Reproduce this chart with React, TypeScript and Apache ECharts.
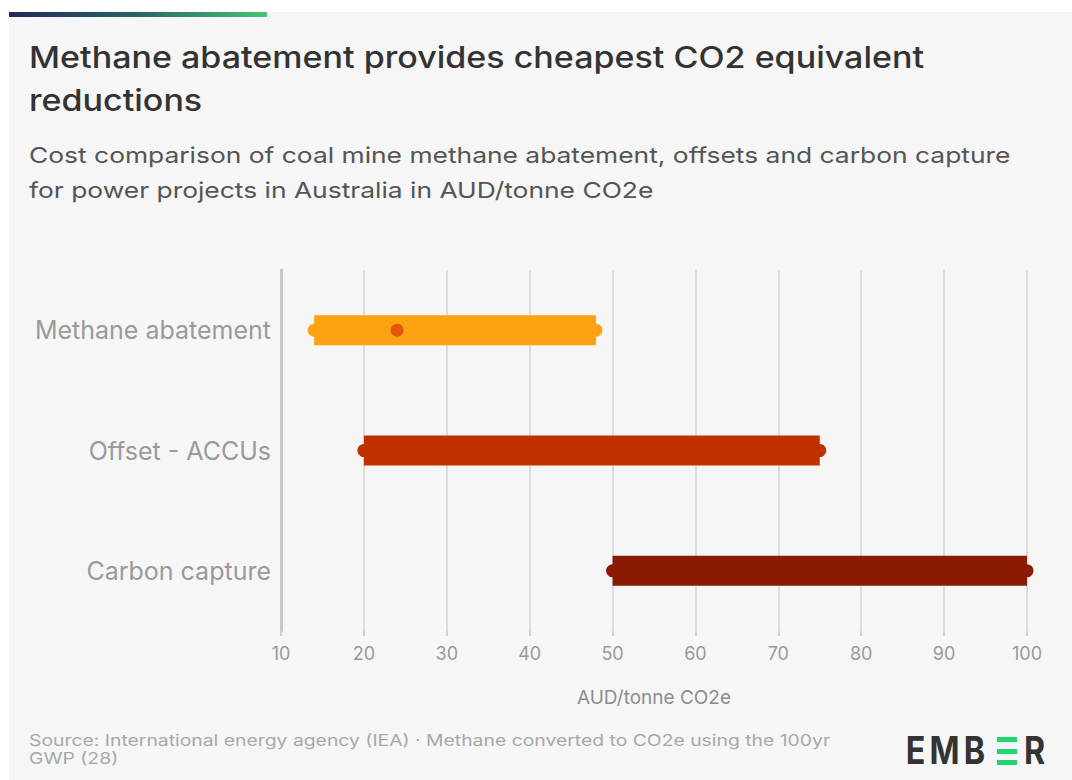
import React, { useEffect, useRef } from "react";
import * as echarts from "echarts";

// Cost ranges in AUD per tonne CO2e
const categories = ["Methane abatement", "Offset - ACCUs", "Carbon capture"];
const rangeLow = [14, 20, 50];
const rangeHigh = [48, 75, 100];
const methaneMidpoint = 24;
const axisMin = 10;
const axisMax = 100;
const axisInterval = 10;

const barColors = ["#fba313", "#c03100", "#8b1a04"];
const midpointColor = "#e2550b";

const FONT = "Inter, 'Noto Sans', sans-serif";

// Wordmark letters: [glyph, centre x]
const logoLetters: [string, number][] = [
  ["E", 915.5],
  ["M", 944.5],
  ["B", 974.5],
  ["R", 1034.5],
];

export default function App() {
  const ref = useRef<HTMLDivElement>(null);

  useEffect(() => {
    if (!ref.current) return;
    const chart = echarts.init(ref.current, undefined, { renderer: "svg" });

    const rangeData = categories.map((_, i) => [rangeLow[i], i, rangeHigh[i]]);

    const logoText = logoLetters.map(([ch, cx]) => ({
      type: "text",
      x: cx,
      y: 751,
      scaleX: 0.85,
      style: {
        text: ch,
        fill: "#333333",
        font: `700 38px ${FONT}`,
        align: "center",
        verticalAlign: "middle",
      },
    }));

    chart.setOption({
      animation: false,
      backgroundColor: "transparent",
      textStyle: { fontFamily: FONT },
      grid: { left: 281, right: 45, top: 270, height: 361 },
      xAxis: {
        type: "value",
        min: axisMin,
        max: axisMax,
        interval: axisInterval,
        axisLine: { show: false },
        axisTick: { show: true, length: 5, lineStyle: { color: "#cfcfcf", width: 2 } },
        axisLabel: { color: "#9a9a9a", fontSize: 18, margin: 13, fontFamily: FONT },
        splitLine: { show: true, lineStyle: { color: "#dcdcdc", width: 2 } },
        name: "AUD/tonne CO2e",
        nameLocation: "middle",
        nameGap: 57,
        nameTextStyle: { color: "#8c8c8c", fontSize: 19, fontFamily: FONT },
      },
      yAxis: {
        type: "category",
        data: categories,
        inverse: true,
        axisLine: { show: true, lineStyle: { color: "#c6c6c6", width: 3 } },
        axisTick: { show: false },
        axisLabel: { color: "#9a9a9a", fontSize: 25, margin: 10, fontFamily: FONT },
        splitLine: { show: false },
      },
      series: [
        {
          type: "custom",
          encode: { x: [0, 2], y: 1 },
          data: rangeData,
          renderItem: (params: any, api: any) => {
            const idx = api.value(1);
            const start = api.coord([api.value(0), idx]);
            const end = api.coord([api.value(2), idx]);
            const h = 30;
            const color = barColors[idx];
            return {
              type: "group",
              children: [
                {
                  type: "rect",
                  shape: { x: start[0], y: start[1] - h / 2, width: end[0] - start[0], height: h },
                  style: { fill: color },
                },
                { type: "circle", shape: { cx: start[0], cy: start[1], r: 6.5 }, style: { fill: color } },
                { type: "circle", shape: { cx: end[0], cy: end[1], r: 6.5 }, style: { fill: color } },
              ],
            };
          },
          z: 3,
        },
        {
          type: "scatter",
          data: [[methaneMidpoint, 0]],
          symbol: "circle",
          symbolSize: 13,
          itemStyle: { color: midpointColor, opacity: 1 },
          z: 4,
        },
      ],
      graphic: [
        {
          type: "rect",
          shape: { x: 9, y: 12, width: 258, height: 5 },
          style: {
            fill: new echarts.graphic.LinearGradient(0, 0, 1, 0, [
              { offset: 0, color: "#222a5b" },
              { offset: 0.5, color: "#2a6467" },
              { offset: 1, color: "#48c470" },
            ]),
          },
        },
        {
          type: "text",
          x: 29,
          y: 36,
          scaleX: 1.135,
          style: {
            text: "Methane abatement provides cheapest CO2 equivalent\nreductions",
            fill: "#333333",
            font: `500 30px ${FONT}`,
            lineHeight: 43,
          },
        },
        {
          type: "text",
          x: 29,
          y: 137,
          scaleX: 1.2,
          style: {
            text: "Cost comparison of coal mine methane abatement, offsets and carbon capture\nfor power projects in Australia in AUD/tonne CO2e",
            fill: "#555555",
            font: `400 22px ${FONT}`,
            lineHeight: 35,
          },
        },
        {
          type: "text",
          x: 29,
          y: 731,
          scaleX: 1.21,
          style: {
            text: "Source: International energy agency (IEA) · Methane converted to CO2e using the 100yr\nGWP (28)",
            fill: "#a8a8a8",
            font: `400 16px ${FONT}`,
            lineHeight: 18,
          },
        },
        // EMBER wordmark, the second E drawn as three green bars
        ...logoText,
        { type: "rect", shape: { x: 997, y: 737, width: 20, height: 5 }, style: { fill: "#22d36f" } },
        { type: "rect", shape: { x: 997, y: 749, width: 20, height: 5 }, style: { fill: "#22d36f" } },
        { type: "rect", shape: { x: 997, y: 760, width: 20, height: 5 }, style: { fill: "#22d36f" } },
      ],
    });

    return () => chart.dispose();
  }, []);

  return (
    <div style={{ position: "absolute", left: 0, top: 0, width: 1072, height: 780, background: "#ffffff" }}>
      <div style={{ position: "absolute", left: 9, top: 12, right: 0, bottom: 0, background: "#f6f6f6" }} />
      <div ref={ref} style={{ position: "absolute", left: 0, top: 0, width: 1072, height: 780 }} />
    </div>
  );
}
